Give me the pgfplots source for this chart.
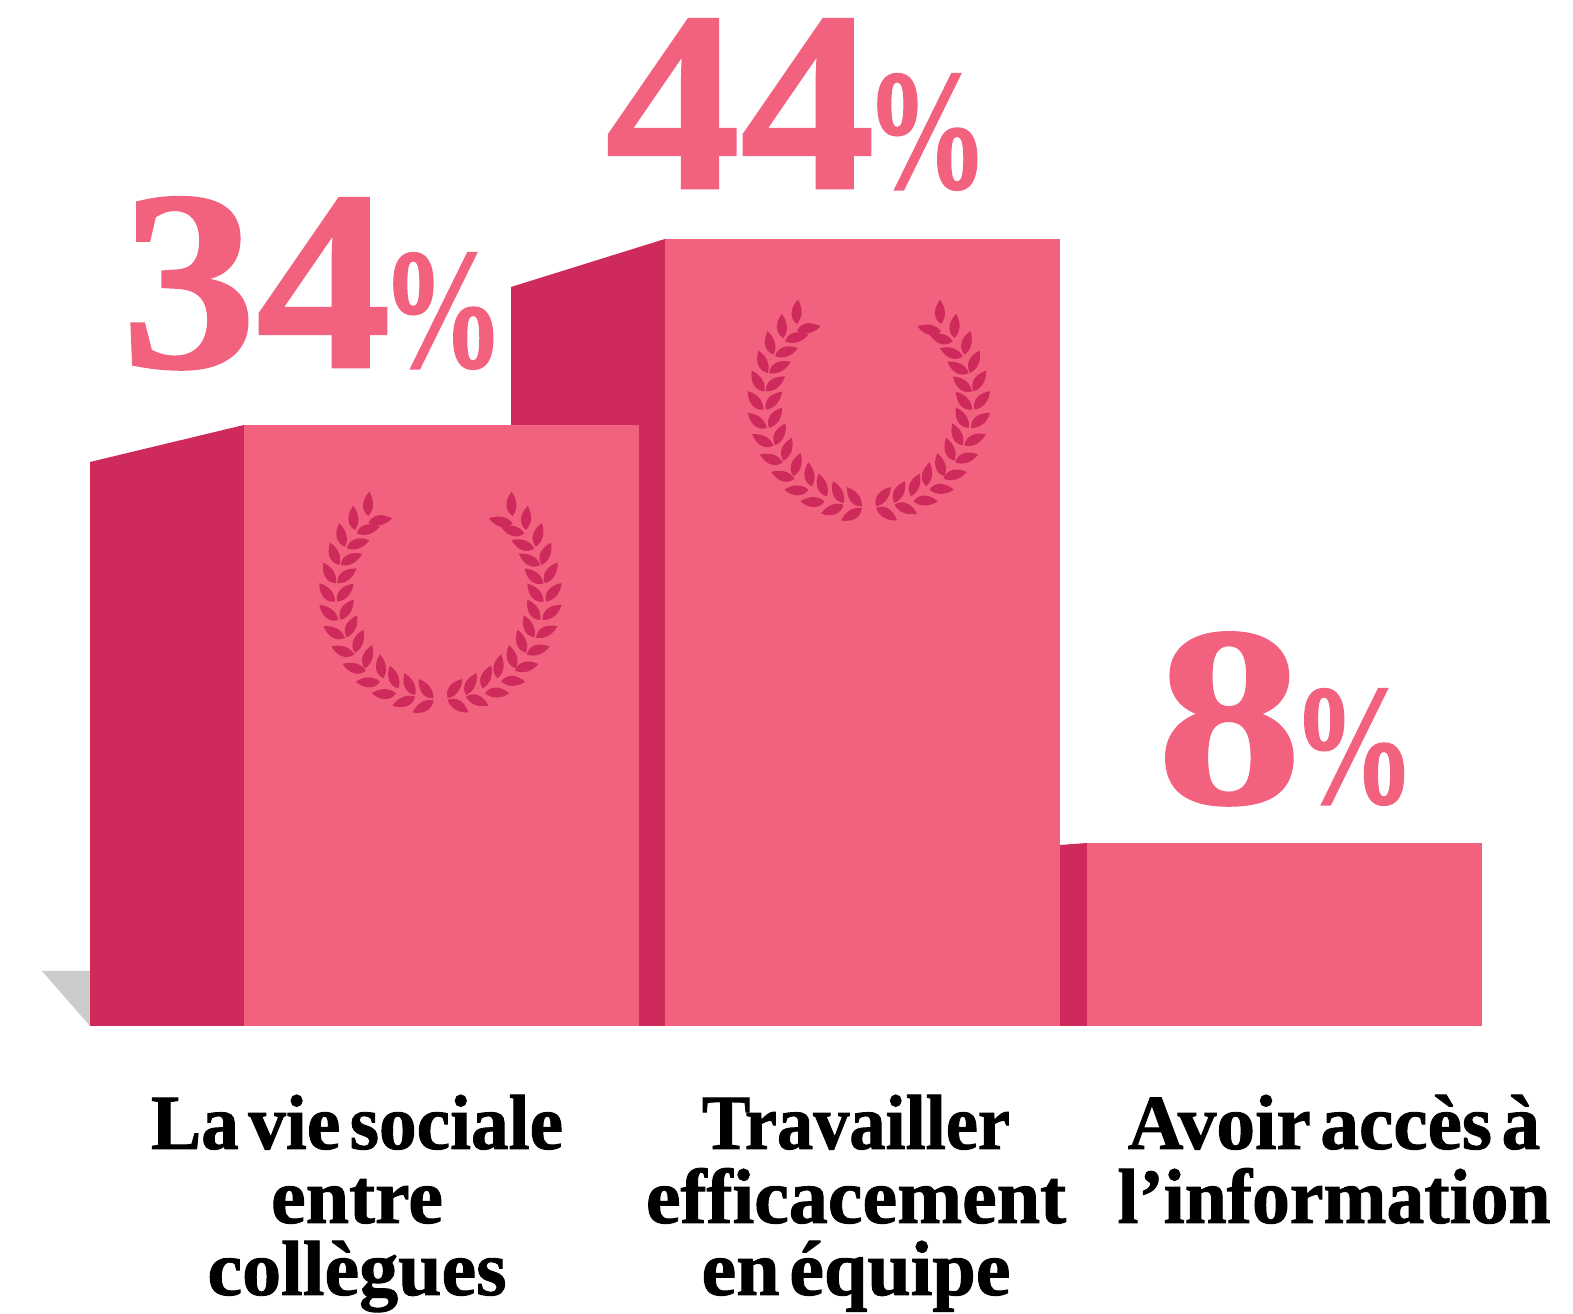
\documentclass[border=0pt]{standalone}
\usepackage{pgfplots}
\usepackage{pgfplotstable}
\usepackage{fontspec}
\pgfplotsset{compat=1.18}
\setmainfont{Liberation Serif}
\newfontfamily\catfont[FakeBold=1.2,WordSpace=0.5]{Liberation Serif Bold}
\newfontfamily\valfont[FakeBold=1.0]{Liberation Serif Bold}
\definecolor{front}{HTML}{F2627F}
\definecolor{side}{HTML}{CE2A5B}
\definecolor{shadow}{HTML}{CCCCCC}
\newcommand{\pct}{\hspace{-2.8pt}\scalebox{0.48}[0.67]{\%}}
\newcommand{\wx}[2]{\scalebox{#1}[1]{#2}}
\pgfdeclareplotmark{leaf}{%
  \pgfpathmoveto{\pgfqpoint{0pt}{0pt}}%
  \pgfpathcurveto{\pgfqpoint{1.4pt}{2.1pt}}{\pgfqpoint{4.2pt}{2.3pt}}{\pgfqpoint{6.9pt}{0pt}}%
  \pgfpathcurveto{\pgfqpoint{4.6pt}{-1.5pt}}{\pgfqpoint{2pt}{-1.7pt}}{\pgfqpoint{0pt}{0pt}}%
  \pgfpathclose\pgfusepathqfill}
\pgfplotstableread{
bx by tx ty
205 108 208 40
165 150 160 82
135 200 118 132
118 255 90 188
108 310 70 248
105 365 60 312
115 420 62 378
135 473 73 440
163 523 95 500
198 572 128 552
240 605 170 605
288 640 220 640
345 650 275 678
400 660 337 698
205 130 278 115
170 160 240 140
140 205 210 180
122 255 185 222
112 310 170 265
112 365 160 312
122 420 160 360
140 472 172 405
165 518 190 450
195 565 218 490
250 595 240 525
295 625 270 558
345 645 315 583
400 655 358 600
}\leaves
\pgfplotsset{
  leafplot/.style={only marks, scatter, mark=leaf,
    scatter/use mapped color={draw=none,fill=side},
    scatter/@pre marker code/.append style={/tikz/rotate=\ang}},
}
\begin{document}
\begin{tikzpicture}
\path[use as bounding box] (0,0) rectangle (15.73cm,13.14cm);
\begin{axis}[
  scale only axis, width=15.73cm, height=13.14cm,
  xmin=0, xmax=1573, ymin=-288, ymax=1026,
  axis lines=none, clip=false,
]
% shadow
\addplot[fill=shadow, draw=none] coordinates {(42,55) (90,55) (90,0)} -- cycle;
% bar 2 side
\addplot[fill=side, draw=none] coordinates {(511,0) (511,739) (665,787) (665,0)} -- cycle;
% bar 1 side and front
\addplot[fill=side, draw=none] coordinates {(90,0) (90,564) (244,601) (244,0)} -- cycle;
\addplot[fill=front, draw=none] coordinates {(244,0) (244,601) (639,601) (639,0)} -- cycle;
% bar 2 front
\addplot[fill=front, draw=none] coordinates {(665,0) (665,787) (1060,787) (1060,0)} -- cycle;
% bar 3
\addplot[fill=side, draw=none] coordinates {(1060,0) (1060,181) (1087,183) (1087,0)} -- cycle;
\addplot[fill=front, draw=none] coordinates {(1087,0) (1087,183) (1482,183) (1482,0)} -- cycle;
% wreaths
\addplot[leafplot, visualization depends on={atan2(\thisrow{by}-\thisrow{ty},\thisrow{tx}-\thisrow{bx})\as\ang}]
  table[x expr=\thisrow{bx}/3+300, y expr=546-\thisrow{by}/3] {\leaves};
\addplot[leafplot, visualization depends on={atan2(\thisrow{by}-\thisrow{ty},\thisrow{bx}-\thisrow{tx})\as\ang}]
  table[x expr=581-\thisrow{bx}/3+0, y expr=546-\thisrow{by}/3] {\leaves};
\addplot[leafplot, visualization depends on={atan2(\thisrow{by}-\thisrow{ty},\thisrow{tx}-\thisrow{bx})\as\ang}]
  table[x expr=\thisrow{bx}/3+728.5, y expr=738-\thisrow{by}/3] {\leaves};
\addplot[leafplot, visualization depends on={atan2(\thisrow{by}-\thisrow{ty},\thisrow{bx}-\thisrow{tx})\as\ang}]
  table[x expr=1009.5-\thisrow{bx}/3, y expr=738-\thisrow{by}/3] {\leaves};
% value labels
\tikzset{val/.style={anchor=base, inner sep=0pt, text=front, font=\fontsize{73}{80}\selectfont\valfont},
  cat/.style={anchor=base, inner sep=0pt, text=black, font=\fontsize{22.2}{24}\selectfont\catfont}}
\node[val] at (axis cs:313,659) {\wx{1.05}{34}\pct};
\node[val] at (axis cs:797,838) {\wx{1.05}{44}\pct};
\node[val] at (axis cs:1286,223) {\wx{1.13}{8}\pct};
% category labels
\node[cat] at (axis cs:357,-123) {\wx{0.965}{La vie sociale}};
\node[cat] at (axis cs:357,-197) {entre};
\node[cat] at (axis cs:357,-269) {collègues};
\node[cat] at (axis cs:856,-123) {\wx{0.927}{Travailler}};
\node[cat] at (axis cs:856,-197) {efficacement};
\node[cat] at (axis cs:856,-269) {en équipe};
\node[cat] at (axis cs:1334,-123) {\wx{0.99}{Avoir accès à}};
\node[cat] at (axis cs:1334,-197) {\wx{0.97}{l’information}};
\end{axis}
\end{tikzpicture}
\end{document}
